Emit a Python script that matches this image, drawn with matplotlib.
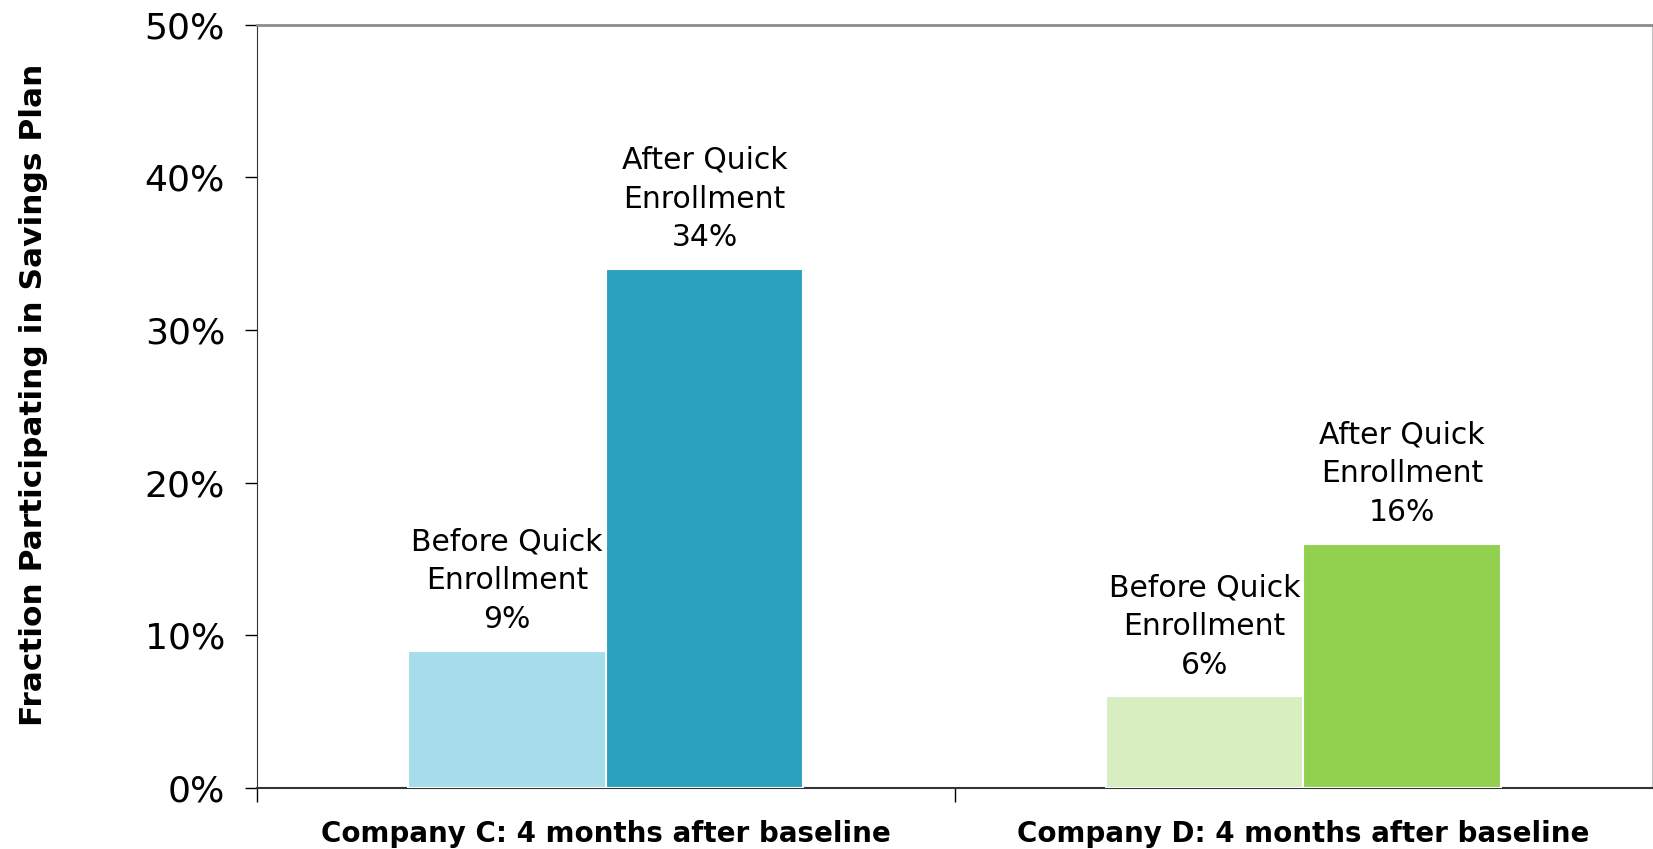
import numpy as np
import matplotlib.pyplot as plt
from matplotlib.ticker import PercentFormatter

# savings plan participation, before vs after quick enrollment
companies = ['Company C: 4 months after baseline', 'Company D: 4 months after baseline']
before = [9, 6]
after = [34, 16]
before_labels = ['Before Quick\nEnrollment\n9%', 'Before Quick\nEnrollment\n6%']
after_labels = ['After Quick\nEnrollment\n34%', 'After Quick\nEnrollment\n16%']

before_colors = ['#A6DDEA', '#D7EEC0']
after_colors = ['#2CA1BF', '#92D050']

plt.rcParams['font.family'] = ['DejaVu Sans']

fig = plt.figure(figsize=(16.53, 8.49), dpi=100)
ax = fig.add_axes([0.1555, 0.0718, 0.8439, 0.8993])

x = np.arange(len(companies))
w = 0.283
b1 = ax.bar(x - w / 2, before, w, color=before_colors, edgecolor='white', linewidth=1.5, zorder=3)
b2 = ax.bar(x + w / 2, after, w, color=after_colors, edgecolor='white', linewidth=1.5, zorder=3)

for bars, labels in ((b1, before_labels), (b2, after_labels)):
    for rect, lab in zip(bars, labels):
        ax.annotate(lab, (rect.get_x() + rect.get_width() / 2, rect.get_height()),
                    xytext=(0, 12), textcoords='offset points',
                    ha='center', va='bottom', multialignment='center',
                    fontsize=21.5, linespacing=1.42)

ax.set_xlim(-0.5, 1.5)
ax.set_ylim(0, 50)
ax.set_yticks(np.arange(0, 51, 10))
ax.yaxis.set_major_formatter(PercentFormatter(decimals=0))
ax.tick_params(axis='y', labelsize=26, length=9, width=1, direction='out', pad=14)

# category names centred, tick marks at category boundaries
ax.set_xticks(x)
ax.set_xticklabels(companies, fontsize=20, fontweight='bold')
ax.tick_params(axis='x', which='major', length=0, pad=23)
ax.set_xticks([-0.5, 0.5], minor=True)
ax.tick_params(axis='x', which='minor', length=10, width=1, direction='out')

ax.set_ylabel('Fraction Participating in Savings Plan', fontsize=22.5, fontweight='bold')
ax.yaxis.set_label_coords(-0.15, 0.515)

ax.spines['left'].set_color('#333333')
ax.spines['bottom'].set_color('#333333')
ax.spines['bottom'].set_linewidth(1.5)
ax.spines['top'].set_color('#8c8c8c')
ax.spines['top'].set_linewidth(2)
ax.spines['right'].set_color('#c0c0c0')

fig.savefig('out.png', dpi=100)
